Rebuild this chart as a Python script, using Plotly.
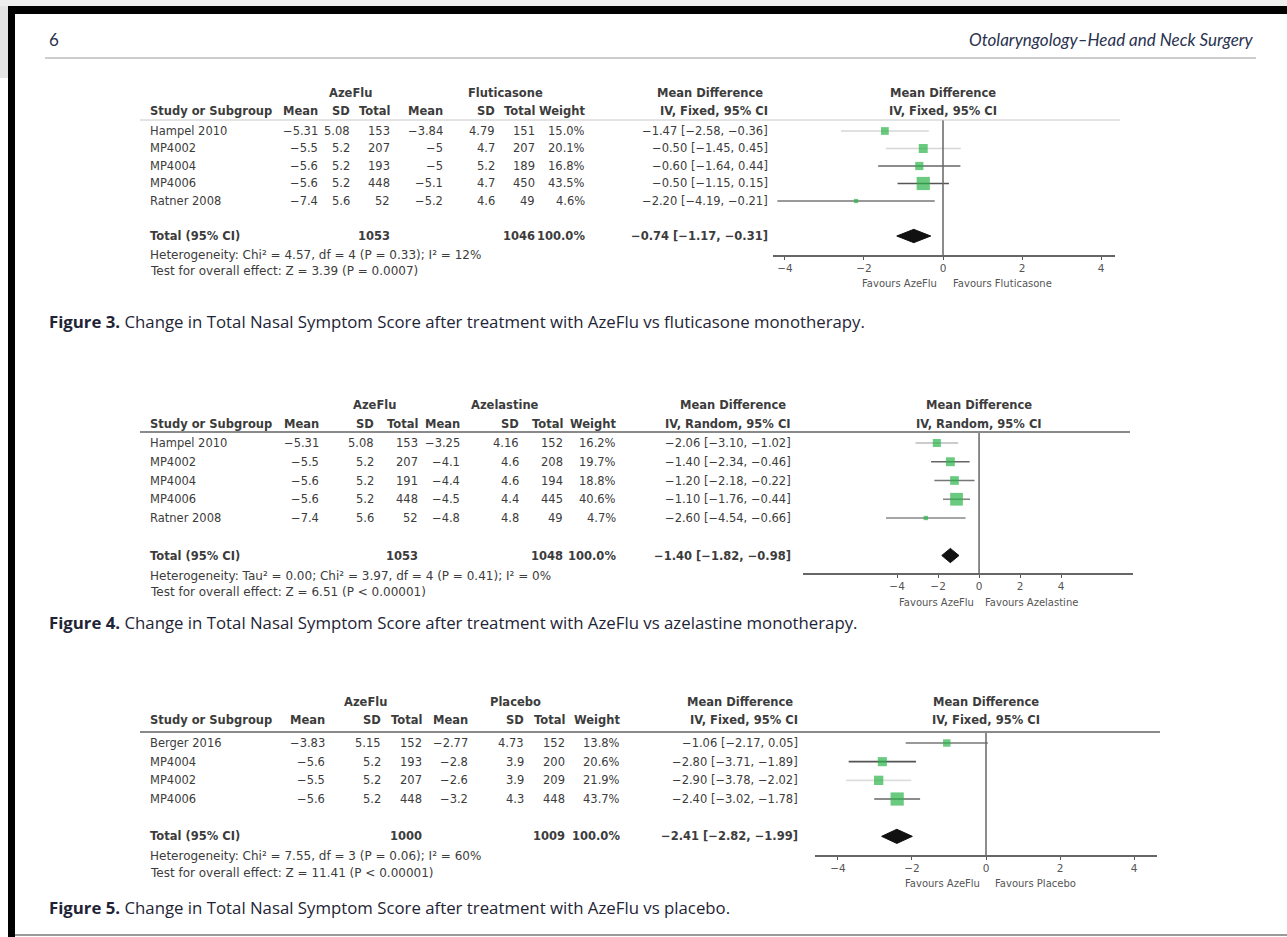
import plotly.graph_objects as go

W, H = 1287, 937
MINUS = "\u2212"

# ------------------------------------------------------------------ DATA
# Figure 3: AzeFlu vs fluticasone
f3_study = ["Hampel 2010", "MP4002", "MP4004", "MP4006", "Ratner 2008"]
f3_exp_mean = [-5.31, -5.5, -5.6, -5.6, -7.4]
f3_exp_sd = [5.08, 5.2, 5.2, 5.2, 5.6]
f3_exp_n = [153, 207, 193, 448, 52]
f3_ctl_mean = [-3.84, -5, -5, -5.1, -5.2]
f3_ctl_sd = [4.79, 4.7, 5.2, 4.7, 4.6]
f3_ctl_n = [151, 207, 189, 450, 49]
f3_weight = [15.0, 20.1, 16.8, 43.5, 4.6]
f3_md = [-1.47, -0.50, -0.60, -0.50, -2.20]
f3_lo = [-2.58, -1.45, -1.64, -1.15, -4.19]
f3_hi = [-0.36, 0.45, 0.44, 0.15, -0.21]
f3_total_n = [1053, 1046]
f3_total_ci = [-0.74, -1.17, -0.31]
f3_groups = ["AzeFlu", "Fluticasone"]
f3_method = "IV, Fixed, 95% CI"
f3_het = "Heterogeneity: Chi\u00b2 = 4.57, df = 4 (P = 0.33); I\u00b2 = 12%"
f3_test = "Test for overall effect: Z = 3.39 (P = 0.0007)"
f3_favours = ["Favours AzeFlu", "Favours Fluticasone"]
f3_ticks = [-4, -2, 0, 2, 4]
f3_caption = ("Figure 3.", "Change in Total Nasal Symptom Score after treatment with AzeFlu vs fluticasone monotherapy.")

# Figure 4: AzeFlu vs azelastine
f4_study = ["Hampel 2010", "MP4002", "MP4004", "MP4006", "Ratner 2008"]
f4_exp_mean = [-5.31, -5.5, -5.6, -5.6, -7.4]
f4_exp_sd = [5.08, 5.2, 5.2, 5.2, 5.6]
f4_exp_n = [153, 207, 191, 448, 52]
f4_ctl_mean = [-3.25, -4.1, -4.4, -4.5, -4.8]
f4_ctl_sd = [4.16, 4.6, 4.6, 4.4, 4.8]
f4_ctl_n = [152, 208, 194, 445, 49]
f4_weight = [16.2, 19.7, 18.8, 40.6, 4.7]
f4_md = [-2.06, -1.40, -1.20, -1.10, -2.60]
f4_lo = [-3.10, -2.34, -2.18, -1.76, -4.54]
f4_hi = [-1.02, -0.46, -0.22, -0.44, -0.66]
f4_total_n = [1053, 1048]
f4_total_ci = [-1.40, -1.82, -0.98]
f4_groups = ["AzeFlu", "Azelastine"]
f4_method = "IV, Random, 95% CI"
f4_het = "Heterogeneity: Tau\u00b2 = 0.00; Chi\u00b2 = 3.97, df = 4 (P = 0.41); I\u00b2 = 0%"
f4_test = "Test for overall effect: Z = 6.51 (P < 0.00001)"
f4_favours = ["Favours AzeFlu", "Favours Azelastine"]
f4_ticks = [-4, -2, 0, 2, 4]
f4_caption = ("Figure 4.", "Change in Total Nasal Symptom Score after treatment with AzeFlu vs azelastine monotherapy.")

# Figure 5: AzeFlu vs placebo
f5_study = ["Berger 2016", "MP4004", "MP4002", "MP4006"]
f5_exp_mean = [-3.83, -5.6, -5.5, -5.6]
f5_exp_sd = [5.15, 5.2, 5.2, 5.2]
f5_exp_n = [152, 193, 207, 448]
f5_ctl_mean = [-2.77, -2.8, -2.6, -3.2]
f5_ctl_sd = [4.73, 3.9, 3.9, 4.3]
f5_ctl_n = [152, 200, 209, 448]
f5_weight = [13.8, 20.6, 21.9, 43.7]
f5_md = [-1.06, -2.80, -2.90, -2.40]
f5_lo = [-2.17, -3.71, -3.78, -3.02]
f5_hi = [0.05, -1.89, -2.02, -1.78]
f5_total_n = [1000, 1009]
f5_total_ci = [-2.41, -2.82, -1.99]
f5_groups = ["AzeFlu", "Placebo"]
f5_method = "IV, Fixed, 95% CI"
f5_het = "Heterogeneity: Chi\u00b2 = 7.55, df = 3 (P = 0.06); I\u00b2 = 60%"
f5_test = "Test for overall effect: Z = 11.41 (P < 0.00001)"
f5_favours = ["Favours AzeFlu", "Favours Placebo"]
f5_ticks = [-4, -2, 0, 2, 4]
f5_caption = ("Figure 5.", "Change in Total Nasal Symptom Score after treatment with AzeFlu vs placebo.")

page_number = "6"
journal = "Otolaryngology\u2013Head and Neck Surgery"
col_headers = ["Mean", "SD", "Total", "Mean", "SD", "Total", "Weight"]

# ------------------------------------------------------------------ STYLE / GEOMETRY
TABLE_FONT = "DejaVu Sans"
VAL_SIZE = 11.5
HDR_SIZE = 11.5
NOTE_SIZE = 12
TEXT_COL = "#3c3c3c"
GREEN = "#2bb34a"

G3 = dict(row0=131, step=17.5, hline=120, axis=255, hdr1=93, hdr2=111, het=255, test=271,
          plot_x=(773, 1115), xrange=(-4.3, 4.35), fav_y=283, line_x=(140, 1120), lw=1, lc="#c8c8c8",
          study_x=148, cols=[320, 352, 392, 445, 497, 537, 587], ci_x=770, grp_x=[350, 505],
          md_x=710, cap_y=321, total_gap=2, fav_off=(-0.1, 0.2),
          ci_colors=["#d6d6d6", "#d6d6d6", "#666666", "#555555", "#777777"])
G4 = dict(row0=443, step=18.75, hline=432, axis=573, hdr1=405, hdr2=424, het=576, test=592,
          plot_x=(803, 1133), xrange=(-8.59, 7.51), fav_y=602, line_x=(140, 1130), lw=2, lc="#8a8a8a",
          study_x=148, cols=[321, 376, 420, 462, 521, 565, 618], ci_x=793, grp_x=[374, 505],
          md_x=733, cap_y=622, total_gap=2, fav_off=(-0.15, 0.2),
          ci_colors=["#bbbbbb", "#666666", "#777777", "#888888", "#888888"])
G5 = dict(row0=743, step=18.67, hline=732, axis=855, hdr1=702, hdr2=720, het=856, test=873,
          plot_x=(815, 1157), xrange=(-4.62, 4.62), fav_y=883, line_x=(140, 1160), lw=2, lc="#8a8a8a",
          study_x=148, cols=[327, 383, 424, 470, 526, 567, 622], ci_x=800, grp_x=[366, 515],
          md_x=740, cap_y=907, total_gap=2, fav_off=(-0.1, 0.2),
          ci_colors=["#777777", "#555555", "#dddddd", "#666666"])


def px(x):
    return x / W


def py(y):
    return 1 - y / H


def fmt(v, d=None):
    s = f"{v:.{d}f}" if d is not None else f"{v:g}"
    return s.replace("-", MINUS)


def ci_text(md, lo, hi):
    return f"{fmt(md, 2)} [{fmt(lo, 2)}, {fmt(hi, 2)}]"


fig = go.Figure()
annotations = []
shapes = []


def ann(text, x, y, xref="paper", yref="paper", xanchor="left", size=VAL_SIZE, color=TEXT_COL,
        family=TABLE_FONT, bold=False):
    if bold:
        text = f"<b>{text}</b>"
    annotations.append(dict(text=text, x=x, y=y, xref=xref, yref=yref, xanchor=xanchor,
                            yanchor="middle", showarrow=False,
                            font=dict(family=family, size=size, color=color)))


def add_panel(k, D, G):
    xa = "x" if k == 1 else f"x{k}"
    ya = "y" if k == 1 else f"y{k}"
    sfx = "" if k == 1 else str(k)
    n = len(D["study"])
    tot = n - 1 + G["total_gap"]

    def idx(p):
        return (p - G["row0"]) / G["step"]

    fig.update_layout({
        f"xaxis{sfx}": dict(domain=[px(G["plot_x"][0]), px(G["plot_x"][1])], range=list(G["xrange"]),
                            anchor=ya, tickmode="array", tickvals=D["ticks"],
                            ticktext=[fmt(t) for t in D["ticks"]], showgrid=False, zeroline=False,
                            showline=True, linecolor="#666666", linewidth=1.5, ticks="outside",
                            ticklen=3, tickcolor="#555555", tickwidth=1.2,
                            tickfont=dict(family=TABLE_FONT, size=10.5, color="#555555"),
                            fixedrange=True),
        f"yaxis{sfx}": dict(domain=[py(G["axis"]), py(G["hline"])], range=[idx(G["axis"]), idx(G["hline"])],
                            anchor=xa, visible=False, fixedrange=True),
    })

    # confidence-interval lines
    for i in range(n):
        fig.add_trace(go.Scatter(x=[D["lo"][i], D["hi"][i]], y=[i, i], mode="lines", xaxis=xa, yaxis=ya,
                                 line=dict(color=G["ci_colors"][i], width=1.6), hoverinfo="skip",
                                 showlegend=False))
    # study squares (area proportional to weight)
    fig.add_trace(go.Scatter(x=D["md"], y=list(range(n)), mode="markers", xaxis=xa, yaxis=ya,
                             marker=dict(symbol="square", color=GREEN,
                                         size=[2.0 * w ** 0.5 for w in D["weight"]], line=dict(width=0)),
                             showlegend=False, hoverinfo="skip"))
    # pooled diamond
    md, lo, hi = D["total_ci"]
    h = 0.38
    fig.add_trace(go.Scatter(x=[lo, md, hi, md, lo], y=[tot, tot - h, tot, tot + h, tot], mode="lines",
                             fill="toself", fillcolor="#111111", line=dict(color="#111111", width=1),
                             xaxis=xa, yaxis=ya, showlegend=False, hoverinfo="skip"))
    # zero line
    shapes.append(dict(type="line", xref=xa, yref=f"{ya} domain", x0=0, x1=0, y0=0, y1=1,
                       line=dict(color="#666666", width=1.5)))
    # header rule
    shapes.append(dict(type="line", xref="paper", yref="paper", x0=px(G["line_x"][0]), x1=px(G["line_x"][1]),
                       y0=py(G["hline"]), y1=py(G["hline"]), line=dict(color=G["lc"], width=G["lw"])))

    # table header
    y1 = py(G["hdr1"])
    y2 = py(G["hdr2"])
    for g, gx in zip(D["groups"], G["grp_x"]):
        ann(g, px(gx), y1, xanchor="center", bold=True, size=HDR_SIZE)
    ann("Mean Difference", px(G["md_x"]), y1, xanchor="center", bold=True, size=HDR_SIZE)
    ann("Study or Subgroup", px(G["study_x"]), y2, bold=True, size=HDR_SIZE)
    for hdr, cx in zip(col_headers, G["cols"]):
        ann(hdr, px(cx), y2, xanchor="right", bold=True, size=HDR_SIZE)
    ann(D["method"], px(G["ci_x"]), y2, xanchor="right", bold=True, size=HDR_SIZE)
    # plot header
    ann("Mean Difference", 0, y1, xref=xa, xanchor="center", bold=True, size=HDR_SIZE)
    ann(D["method"], 0, y2, xref=xa, xanchor="center", bold=True, size=HDR_SIZE)

    # study rows
    for i in range(n):
        vals = [fmt(D["exp_mean"][i]), fmt(D["exp_sd"][i]), str(D["exp_n"][i]),
                fmt(D["ctl_mean"][i]), fmt(D["ctl_sd"][i]), str(D["ctl_n"][i]),
                f"{D['weight'][i]:.1f}%"]
        ann(D["study"][i], px(G["study_x"]), i, yref=ya)
        for v, cx in zip(vals, G["cols"]):
            ann(v, px(cx), i, yref=ya, xanchor="right")
        ann(ci_text(D["md"][i], D["lo"][i], D["hi"][i]), px(G["ci_x"]), i, yref=ya, xanchor="right")

    # total row
    ann("Total (95% CI)", px(G["study_x"]), tot, yref=ya, bold=True)
    ann(str(D["total_n"][0]), px(G["cols"][2]), tot, yref=ya, xanchor="right", bold=True)
    ann(str(D["total_n"][1]), px(G["cols"][5]), tot, yref=ya, xanchor="right", bold=True)
    ann("100.0%", px(G["cols"][6]), tot, yref=ya, xanchor="right", bold=True)
    ann(ci_text(*D["total_ci"]), px(G["ci_x"]), tot, yref=ya, xanchor="right", bold=True)
    ann(D["het"], px(G["study_x"]), py(G["het"]), size=NOTE_SIZE)
    ann(D["test"], px(G["study_x"]), py(G["test"]), size=NOTE_SIZE)

    # favours labels
    ann(D["favours"][0], G["fav_off"][0], py(G["fav_y"]), xref=xa, xanchor="right", size=10,
        color="#555555")
    ann(D["favours"][1], G["fav_off"][1], py(G["fav_y"]), xref=xa, xanchor="left", size=10,
        color="#555555")

    # caption
    ann(f"<b>{D['caption'][0]}</b> {D['caption'][1]}", px(47), py(G["cap_y"]), family="Open Sans",
        size=16.8, color="#1e2436")


def pack(p):
    g = globals()
    keys = ["study", "exp_mean", "exp_sd", "exp_n", "ctl_mean", "ctl_sd", "ctl_n", "weight", "md", "lo",
            "hi", "total_n", "total_ci", "groups", "method", "het", "test", "favours", "ticks", "caption"]
    return {k: g[f"{p}_{k}"] for k in keys}


add_panel(1, pack("f3"), G3)
add_panel(2, pack("f4"), G4)
add_panel(3, pack("f5"), G5)

# ------------------------------------------------------------------ page decoration
shapes.extend([
    dict(type="rect", xref="paper", yref="paper", x0=0, x1=px(8), y0=py(78), y1=1,
         fillcolor="#e4e4e4", line=dict(width=0), layer="below"),
    dict(type="rect", xref="paper", yref="paper", x0=0, x1=1, y0=py(6), y1=1,
         fillcolor="#eeeeee", line=dict(width=0), layer="below"),
    dict(type="rect", xref="paper", yref="paper", x0=px(8), x1=1, y0=py(14), y1=py(6),
         fillcolor="#000000", line=dict(width=0)),
    dict(type="rect", xref="paper", yref="paper", x0=px(8), x1=px(15), y0=0, y1=py(6),
         fillcolor="#000000", line=dict(width=0)),
    dict(type="line", xref="paper", yref="paper", x0=px(15), x1=1, y0=py(935), y1=py(935),
         line=dict(color="#9a9a9a", width=2)),
    dict(type="line", xref="paper", yref="paper", x0=px(45), x1=px(1256), y0=py(58), y1=py(58),
         line=dict(color="#bdbdbd", width=1.5)),
])
ann(page_number, px(47), py(40), family="Lato", size=17, color="#2a3350")
ann(f"<i>{journal}</i>", px(1256), py(40), xanchor="right", family="Lato", size=17, color="#2a3350")

fig.update_layout(width=W, height=H, margin=dict(l=0, r=0, t=0, b=0), paper_bgcolor="white",
                  plot_bgcolor="rgba(0,0,0,0)", annotations=annotations, shapes=shapes, showlegend=False)

fig.write_html("out.html", post_script="document.body.style.margin='0';",
               config={"displayModeBar": False})
